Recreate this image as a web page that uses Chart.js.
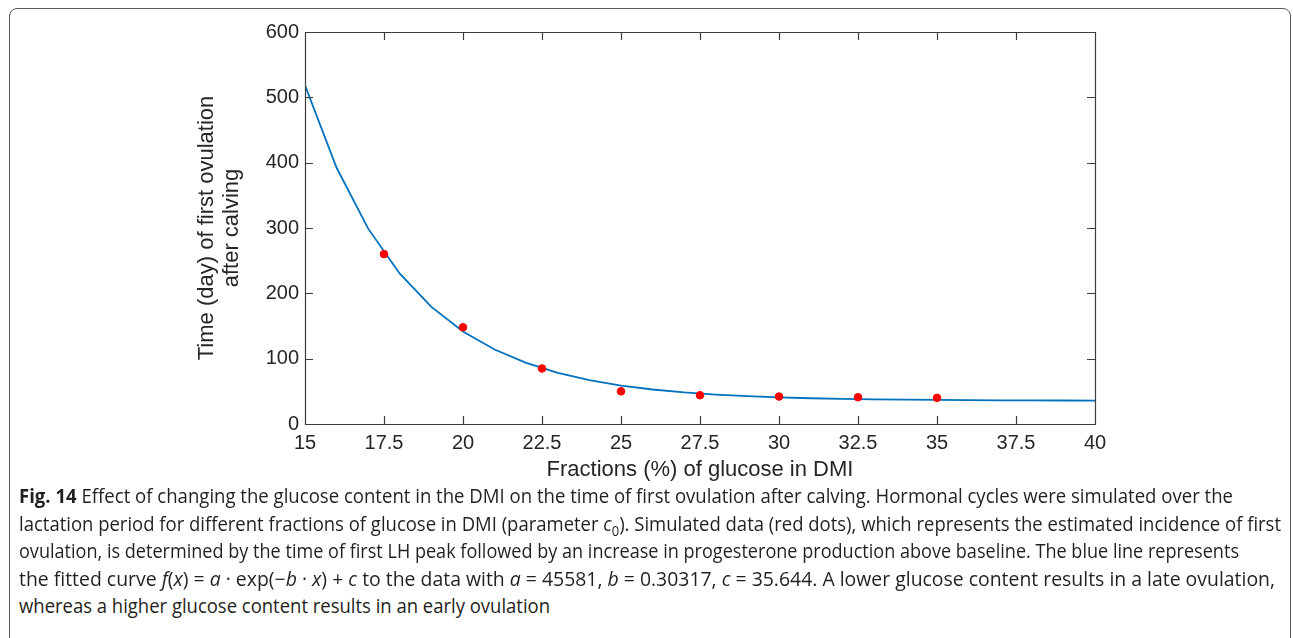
<!DOCTYPE html>
<html>
<head>
<meta charset="utf-8">
<script src="https://cdn.jsdelivr.net/npm/chart.js@4/dist/chart.umd.min.js"></script>
<style>
  body { margin: 0; background: #fff; width: 1293px; height: 638px; overflow: hidden; position: relative; }
  #frame { position: absolute; left: 9px; top: 8px; width: 1280px; height: 700px;
           border: 1.5px solid #5a5a5a; border-radius: 8px; }
  #plot { position: absolute; left: 0; top: 0; }
  .cap { position: absolute; left: 19px; white-space: nowrap; font-family: "Open Sans", "Noto Sans", sans-serif;
         font-size: 19.5px; line-height: 27.5px; color: #231f20; transform-origin: 0 50%; }
  .cap sub { font-size: 0.7em; line-height: 0; }
</style>
</head>
<body>
<div id="frame"></div>
<canvas id="plot" width="1293" height="500"></canvas>
<div class="cap" style="top:482px" data-w="1214"><b>Fig. 14</b> Effect of changing the glucose content in the DMI on the time of first ovulation after calving. Hormonal cycles were simulated over the</div>
<div class="cap" style="top:509.5px" data-w="1262">lactation period for different fractions of glucose in DMI (parameter <i>c</i><sub>0</sub>). Simulated data (red dots), which represents the estimated incidence of first</div>
<div class="cap" style="top:537px" data-w="1220">ovulation, is determined by the time of first LH peak followed by an increase in progesterone production above baseline. The blue line represents</div>
<div class="cap" style="top:564.5px" data-w="1256">the fitted curve <i>f</i>(<i>x</i>) = <i>a</i> · exp(−<i>b</i> · <i>x</i>) + <i>c</i> to the data with <i>a</i> = 45581, <i>b</i> = 0.30317, <i>c</i> = 35.644. A lower glucose content results in a late ovulation,</div>
<div class="cap" style="top:592px" data-w="531">whereas a higher glucose content results in an early ovulation</div>
<script>
// fitted curve, sampled at whole percentages
const glucose = [15, 16, 17, 18, 19, 20, 21, 22, 23, 24, 25, 26, 27, 28, 29, 30, 31, 32, 33, 34, 35, 36, 37, 38, 39, 40];
const fitDays = [518.5, 392.2, 299.0, 230.1, 179.3, 141.7, 114.0, 93.5, 78.4, 67.2, 58.9, 52.8, 48.3, 45.0, 42.6, 40.8, 39.4, 38.4, 37.7, 37.2, 36.8, 36.5, 36.3, 36.1, 36.0, 35.9];

// simulated first ovulation (red dots)
const simGlucose = [17.5, 20, 22.5, 25, 27.5, 30, 32.5, 35];
const simDays = [260, 148, 85, 50, 44, 42, 41, 40];

const xTicks = [15, 17.5, 20, 22.5, 25, 27.5, 30, 32.5, 35, 37.5, 40];
const yTicks = [0, 100, 200, 300, 400, 500, 600];

const axisFont = { family: "'Liberation Sans', Arial, sans-serif", size: 20 };
const titleFont = { family: "'Liberation Sans', Arial, sans-serif", size: 22, lineHeight: 1.15 };

// matlab style box with inward ticks on all four sides
const boxTicks = {
  id: 'boxTicks',
  afterDraw(chart) {
    const { ctx, chartArea: a, scales } = chart;
    const len = 8;
    ctx.save();
    ctx.strokeStyle = '#3c3c3c';
    ctx.lineWidth = 1.2;
    ctx.beginPath();
    ctx.rect(a.left + 0.5, a.top + 0.5, a.right - a.left, a.bottom - a.top);
    scales.x.ticks.forEach(t => {
      const px = Math.round(scales.x.getPixelForValue(t.value)) + 0.5;
      ctx.moveTo(px, a.bottom); ctx.lineTo(px, a.bottom - len);
      ctx.moveTo(px, a.top); ctx.lineTo(px, a.top + len);
    });
    scales.y.ticks.forEach(t => {
      const py = Math.round(scales.y.getPixelForValue(t.value)) + 0.5;
      ctx.moveTo(a.left, py); ctx.lineTo(a.left + len, py);
      ctx.moveTo(a.right, py); ctx.lineTo(a.right - len, py);
    });
    ctx.stroke();
    ctx.restore();
  }
};

new Chart(document.getElementById('plot'), {
  type: 'scatter',
  data: {
    datasets: [{
      data: glucose.map((g, i) => ({ x: g, y: fitDays[i] })),
      showLine: true,
      borderColor: '#0072BD',
      borderWidth: 1.8,
      pointRadius: 0,
      tension: 0,
      order: 2
    }, {
      data: simGlucose.map((g, i) => ({ x: g, y: simDays[i] })),
      backgroundColor: '#FF0000',
      borderColor: '#FF0000',
      pointRadius: 3.8,
      order: 1
    }]
  },
  plugins: [boxTicks],
  options: {
    responsive: false,
    animation: false,
    devicePixelRatio: 1,
    layout: { padding: { left: 0, top: 32, right: 198, bottom: 0 } },
    plugins: { legend: { display: false }, tooltip: { enabled: false } },
    scales: {
      x: {
        type: 'linear', min: 15, max: 40,
        afterBuildTicks: s => { s.ticks = xTicks.map(v => ({ value: v })); },
        afterFit: s => { s.height = 76; },
        grid: { display: false, drawTicks: false },
        border: { display: false },
        ticks: { font: axisFont, color: '#262626', padding: 7, maxRotation: 0 },
        title: { display: true, text: 'Fractions (%) of glucose in DMI', font: titleFont, color: '#262626',
                 padding: { top: 0, bottom: 17.4 } }
      },
      y: {
        min: 0, max: 600,
        afterBuildTicks: s => { s.ticks = yTicks.map(v => ({ value: v })); },
        afterFit: s => { s.width = 305; },
        grid: { display: false, drawTicks: false },
        border: { display: false },
        ticks: { font: axisFont, color: '#262626', padding: 6 },
        title: { display: true, text: ['Time (day) of first ovulation', 'after calving'], font: titleFont, color: '#262626',
                 padding: { top: 194.4, bottom: 0 } }
      }
    }
  }
});

// squeeze each caption line to its column width
document.querySelectorAll('.cap').forEach(el => {
  const w = el.getBoundingClientRect().width;
  el.style.transform = 'scaleX(' + (el.dataset.w / w) + ')';
});
</script>
</body>
</html>
